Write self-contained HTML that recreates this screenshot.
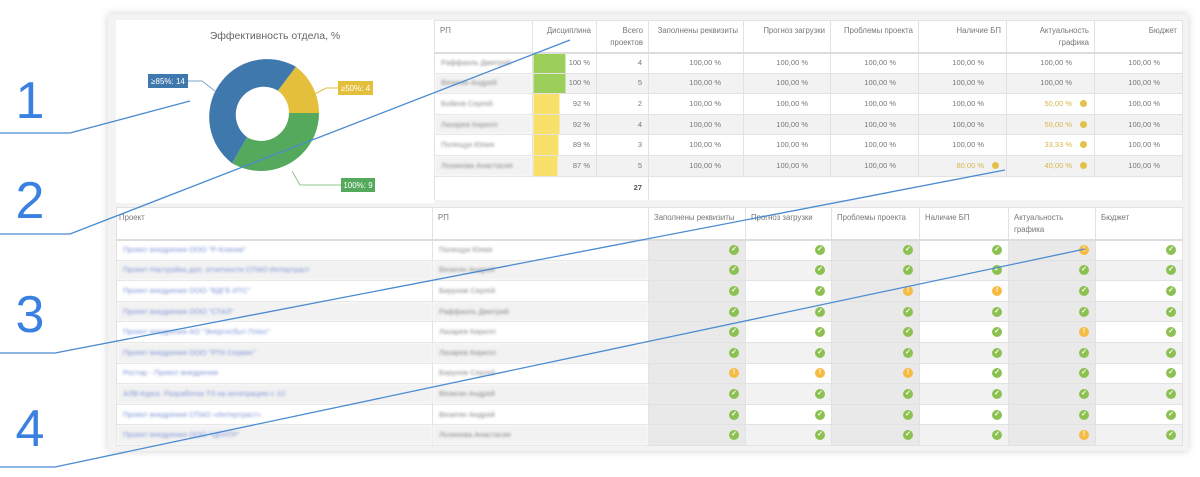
<!DOCTYPE html>
<html><head><meta charset="utf-8"><style>
*{box-sizing:border-box;margin:0;padding:0}
body{width:1200px;height:477px;background:#fff;position:relative;overflow:hidden;font-family:"Liberation Sans",sans-serif;font-size:7.5px;color:#777}
.panel{position:absolute;left:108px;top:14px;width:1080px;height:437px;background:#f3f3f3;box-shadow:0 0 8px rgba(0,0,0,.18)}
.card{position:absolute;background:#fff}
table{border-collapse:collapse;table-layout:fixed;position:absolute}
td{border:1px solid #e2e2e2;height:20.6px;line-height:12px;padding:0 6px;white-space:nowrap;overflow:hidden}
th{border:1px solid #e2e2e2;border-bottom:2px solid #ddd;font-weight:normal;vertical-align:top;padding:4px 5px 0;text-align:right;line-height:12px;color:#777;font-size:7.8px;white-space:nowrap}
.r{text-align:right}
.bl{filter:blur(1.3px);color:#888}
.lk{filter:blur(1.2px);color:#7f95d8}
.g td{background:#f2f2f2}
.y{color:#d9b64a}
.dot{display:inline-block;width:7px;height:7px;border-radius:50%;background:#e3c14a;margin-left:8px;vertical-align:-1px}
.ok,.wr{display:inline-block;width:10px;height:10px;border-radius:50%;color:#fff;font-size:7px;line-height:10px;text-align:center;font-weight:bold;vertical-align:middle}
.ok{background:#8cc152}.wr{background:#f6bb42}
.sh{background:#e9e9e9!important}
.p{padding-right:22px}
</style></head><body>
<div class="panel"></div>
<div class="card" style="left:116px;top:20px;width:318px;height:183px"></div>
<div style="position:absolute;left:116px;top:30px;width:318px;text-align:center;font-size:10.5px;color:#666">Эффективность отдела, %</div>

<table style="left:434px;top:20px;width:748px;background:#fff">
<colgroup><col style="width:98px"><col style="width:64px"><col style="width:52px"><col style="width:95px"><col style="width:87px"><col style="width:88px"><col style="width:88px"><col style="width:88px"><col style="width:88px"></colgroup>
<tr style="height:32px"><th style="text-align:left">РП</th><th>Дисциплина</th><th>Всего<br>проектов</th><th>Заполнены реквизиты</th><th>Прогноз загрузки</th><th>Проблемы проекта</th><th>Наличие БП</th><th>Актуальность<br>графика</th><th>Бюджет</th></tr>
<tr><td class="bl">Раффаэль Дмитрий</td><td class="r" style="background:linear-gradient(90deg,#9ccf5a 32px,transparent 32px)">100 %</td><td class="r">4</td><td class="r p">100,00 %</td><td class="r p">100,00 %</td><td class="r p">100,00 %</td><td class="r p">100,00 %</td><td class="r p">100,00 %</td><td class="r p">100,00 %</td></tr>
<tr class="g"><td class="bl">Вязигин Андрей</td><td class="r" style="background:linear-gradient(90deg,#9ccf5a 32px,#f2f2f2 32px)">100 %</td><td class="r">5</td><td class="r p">100,00 %</td><td class="r p">100,00 %</td><td class="r p">100,00 %</td><td class="r p">100,00 %</td><td class="r p">100,00 %</td><td class="r p">100,00 %</td></tr>
<tr><td class="bl">Бойков Сергей</td><td class="r" style="background:linear-gradient(90deg,#f8e06a 26px,#fff 26px)">92 %</td><td class="r">2</td><td class="r p">100,00 %</td><td class="r p">100,00 %</td><td class="r p">100,00 %</td><td class="r p">100,00 %</td><td class="r y" style="padding-right:7px">50,00 %<span class="dot"></span></td><td class="r p">100,00 %</td></tr>
<tr class="g"><td class="bl">Лазарев Кирилл</td><td class="r" style="background:linear-gradient(90deg,#f8e06a 26px,#f2f2f2 26px)">92 %</td><td class="r">4</td><td class="r p">100,00 %</td><td class="r p">100,00 %</td><td class="r p">100,00 %</td><td class="r p">100,00 %</td><td class="r y" style="padding-right:7px">50,00 %<span class="dot"></span></td><td class="r p">100,00 %</td></tr>
<tr><td class="bl">Полещук Юлия</td><td class="r" style="background:linear-gradient(90deg,#f8e06a 25px,#fff 25px)">89 %</td><td class="r">3</td><td class="r p">100,00 %</td><td class="r p">100,00 %</td><td class="r p">100,00 %</td><td class="r p">100,00 %</td><td class="r y" style="padding-right:7px">33,33 %<span class="dot"></span></td><td class="r p">100,00 %</td></tr>
<tr class="g"><td class="bl">Лозинова Анастасия</td><td class="r" style="background:linear-gradient(90deg,#f8e06a 24px,#f2f2f2 24px)">87 %</td><td class="r">5</td><td class="r p">100,00 %</td><td class="r p">100,00 %</td><td class="r p">100,00 %</td><td class="r y" style="padding-right:7px">80,00 %<span class="dot"></span></td><td class="r y" style="padding-right:7px">40,00 %<span class="dot"></span></td><td class="r p">100,00 %</td></tr>
<tr><td colspan="3" class="r" style="height:24px;border-bottom:none;font-weight:bold;color:#555">27</td><td colspan="6" style="height:24px;border-left:none;border-bottom:none"></td></tr>
</table>

<table style="left:116px;top:207px;width:1066px;background:#fff">
<colgroup><col style="width:316px"><col style="width:216px"><col style="width:97px"><col style="width:86px"><col style="width:88px"><col style="width:89px"><col style="width:87px"><col style="width:87px"></colgroup>
<tr style="height:32px"><th style="text-align:left;padding-left:2px">Проект</th><th style="text-align:left">РП</th><th style="text-align:left">Заполнены реквизиты</th><th style="text-align:left">Прогноз загрузки</th><th style="text-align:left">Проблемы проекта</th><th style="text-align:left">Наличие БП</th><th style="text-align:left">Актуальность<br>графика</th><th style="text-align:left">Бюджет</th></tr>
<tr><td class="lk">Проект внедрения ООО "Р-Клиник"</td><td class="bl">Полещук Юлия</td><td class="r sh"><span class="ok">✓</span></td><td class="r"><span class="ok">✓</span></td><td class="r sh"><span class="ok">✓</span></td><td class="r"><span class="ok">✓</span></td><td class="r sh"><span class="wr">!</span></td><td class="r"><span class="ok">✓</span></td></tr>
<tr class="g"><td class="lk">Проект Настройка доп. отчетности СПАО Интертраст</td><td class="bl">Вязигин Андрей</td><td class="r sh"><span class="ok">✓</span></td><td class="r"><span class="ok">✓</span></td><td class="r sh"><span class="ok">✓</span></td><td class="r"><span class="ok">✓</span></td><td class="r sh"><span class="ok">✓</span></td><td class="r"><span class="ok">✓</span></td></tr>
<tr><td class="lk">Проект внедрения ООО "ВДГБ ИТС"</td><td class="bl">Бирунов Сергей</td><td class="r sh"><span class="ok">✓</span></td><td class="r"><span class="ok">✓</span></td><td class="r sh"><span class="wr">!</span></td><td class="r"><span class="wr">!</span></td><td class="r sh"><span class="ok">✓</span></td><td class="r"><span class="ok">✓</span></td></tr>
<tr class="g"><td class="lk">Проект внедрения ООО "СТАЛ"</td><td class="bl">Раффаэль Дмитрий</td><td class="r sh"><span class="ok">✓</span></td><td class="r"><span class="ok">✓</span></td><td class="r sh"><span class="ok">✓</span></td><td class="r"><span class="ok">✓</span></td><td class="r sh"><span class="ok">✓</span></td><td class="r"><span class="ok">✓</span></td></tr>
<tr><td class="lk">Проект внедрения АО "Энергосбыт Плюс"</td><td class="bl">Лазарев Кирилл</td><td class="r sh"><span class="ok">✓</span></td><td class="r"><span class="ok">✓</span></td><td class="r sh"><span class="ok">✓</span></td><td class="r"><span class="ok">✓</span></td><td class="r sh"><span class="wr">!</span></td><td class="r"><span class="ok">✓</span></td></tr>
<tr class="g"><td class="lk">Проект внедрения ООО "РТК-Сервис"</td><td class="bl">Лазарев Кирилл</td><td class="r sh"><span class="ok">✓</span></td><td class="r"><span class="ok">✓</span></td><td class="r sh"><span class="ok">✓</span></td><td class="r"><span class="ok">✓</span></td><td class="r sh"><span class="ok">✓</span></td><td class="r"><span class="ok">✓</span></td></tr>
<tr><td class="lk">Ростар - Проект внедрения</td><td class="bl">Бирунов Сергей</td><td class="r sh"><span class="wr">!</span></td><td class="r"><span class="wr">!</span></td><td class="r sh"><span class="wr">!</span></td><td class="r"><span class="ok">✓</span></td><td class="r sh"><span class="ok">✓</span></td><td class="r"><span class="ok">✓</span></td></tr>
<tr class="g"><td class="lk">АЛВ-Курск. Разработка ТЗ на интеграцию с 1С</td><td class="bl">Вязигин Андрей</td><td class="r sh"><span class="ok">✓</span></td><td class="r"><span class="ok">✓</span></td><td class="r sh"><span class="ok">✓</span></td><td class="r"><span class="ok">✓</span></td><td class="r sh"><span class="ok">✓</span></td><td class="r"><span class="ok">✓</span></td></tr>
<tr><td class="lk">Проект внедрения СПАО «Интертраст»</td><td class="bl">Вязигин Андрей</td><td class="r sh"><span class="ok">✓</span></td><td class="r"><span class="ok">✓</span></td><td class="r sh"><span class="ok">✓</span></td><td class="r"><span class="ok">✓</span></td><td class="r sh"><span class="ok">✓</span></td><td class="r"><span class="ok">✓</span></td></tr>
<tr class="g"><td class="lk">Проект внедрения ООО "ЦЕНТР"</td><td class="bl">Лозинова Анастасия</td><td class="r sh"><span class="ok">✓</span></td><td class="r"><span class="ok">✓</span></td><td class="r sh"><span class="ok">✓</span></td><td class="r"><span class="ok">✓</span></td><td class="r sh"><span class="wr">!</span></td><td class="r"><span class="ok">✓</span></td></tr>
</table>

<svg width="1200" height="477" style="position:absolute;left:0;top:0" xmlns="http://www.w3.org/2000/svg">
<g transform="translate(261,113)">
<path d="M34.9,-46.3 A58,58 0 0 1 58,0 L28,0 A28,28 0 0 0 16.9,-22.4 Z" fill="#e4bf3c"/>
<path d="M58,0 A58,58 0 0 1 -29,50.2 L-14,24.2 A28,28 0 0 0 28,0 Z" fill="#55a95c"/>
<path d="M-29,50.2 A58,58 0 0 1 34.9,-46.3 L16.9,-22.4 A28,28 0 0 0 -14,24.2 Z" fill="#3f78ac"/>
</g>
<polyline points="188,81 202,81 215,91" fill="none" stroke="#7fa6c9" stroke-width="1"/>
<polyline points="338,88 326,88 311,96" fill="none" stroke="#e4bf3c" stroke-width="1"/>
<polyline points="341,185 300,185 292,171" fill="none" stroke="#8cc58f" stroke-width="1"/>
<rect x="148" y="74" width="40" height="14" fill="#3f78ac"/><text x="168" y="84" fill="#fff" font-size="8" text-anchor="middle" font-family="Liberation Sans">≥85%: 14</text>
<rect x="338" y="81" width="35" height="14" fill="#e4bf3c"/><text x="355.5" y="91" fill="#fff" font-size="8" text-anchor="middle" font-family="Liberation Sans">≥50%: 4</text>
<rect x="341" y="178" width="34" height="14" fill="#55a95c"/><text x="358" y="188" fill="#fff" font-size="8" text-anchor="middle" font-family="Liberation Sans">100%: 9</text>
<g stroke="#4a8bd0" stroke-width="1.3" fill="none">
<polyline points="0,133 70,133 190,101"/>
<polyline points="0,234 70,234 570,40"/>
<polyline points="0,353 55,353 1005,170"/>
<polyline points="0,467 55,467 1085,249"/>
</g>
<g fill="#3a80e0" font-family="Liberation Sans" font-size="52" text-anchor="middle">
<text x="30" y="118">1</text><text x="30" y="218">2</text><text x="30" y="332">3</text><text x="30" y="446">4</text>
</g>
</svg>
</body></html>
